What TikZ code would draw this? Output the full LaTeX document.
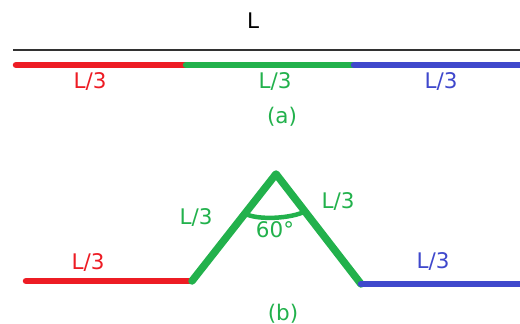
\documentclass[tikz,border=0pt]{standalone}
\usepackage{fontspec}
\setmainfont{DejaVu Sans}
\usetikzlibrary{calc}
\definecolor{pred}{RGB}{237,28,36}
\definecolor{pgreen}{RGB}{34,177,76}
\definecolor{pblue}{RGB}{63,72,204}
\definecolor{dgray}{RGB}{50,50,50}
\begin{document}
\begin{tikzpicture}[x=1pt,y=-1pt,
  lbl/.style={inner sep=0pt, font=\fontsize{21.5}{24}\selectfont},
  seg/.style={line width=6.5pt, line cap=round, line join=round}]
\useasboundingbox (0,0) rectangle (520,324);
% (a)
\node[lbl, text=black] (L) at (253,21) {L};
\coordinate (k1) at (13,50);
\coordinate (k2) at (522,50);
\draw[line width=2.2pt, dgray] (k1) -- (k2);
\coordinate (a0) at (16,65);
\coordinate (a1) at (186,65);
\coordinate (a2) at (354,65);
\coordinate (a3) at (524,65);
\draw[seg, pred] (a0) -- (a1);
\draw[seg, pgreen] (a1) -- (a2);
\draw[seg, pblue] (a2) -- (a3);
\node[lbl, text=pred] (la1) at (90,82) {L/3};
\node[lbl, text=pgreen] (la2) at (275,82) {L/3};
\node[lbl, text=pblue] (la3) at (441,82) {L/3};
\node[lbl, text=pgreen] (capa) at (282,117) {(a)};
% (b)
\coordinate (b0) at (26,281);
\coordinate (b1) at (192,281);
\coordinate (b2) at (276,174);
\coordinate (b3) at (361,284);
\coordinate (b4) at (524,284);
\draw[seg, pred] (b0) -- (b1);
\draw[seg, pgreen, line width=7.5pt] (b1) -- (b2) -- (b3);
\draw[seg, pblue] (b3) -- (b4);
\coordinate (p1) at ($(b2)!0.37!(b1)$);
\coordinate (p2) at ($(b2)!0.34!(b3)$);
\draw[pgreen, line width=4.5pt] (p1) .. controls ($(p1)+(13,7)$) and ($(p2)+(-13,7)$) .. (p2);
\node[lbl, text=pgreen] (lb1) at (196,218) {L/3};
\node[lbl, text=pgreen] (lb2) at (338,202) {L/3};
\node[lbl, text=pgreen] (ang) at (275,230) {60°};
\node[lbl, text=pred] (lb0) at (88,263) {L/3};
\node[lbl, text=pblue] (lb3) at (433,262) {L/3};
\node[lbl, text=pgreen] (capb) at (283,314) {(b)};
\end{tikzpicture}
\end{document}
